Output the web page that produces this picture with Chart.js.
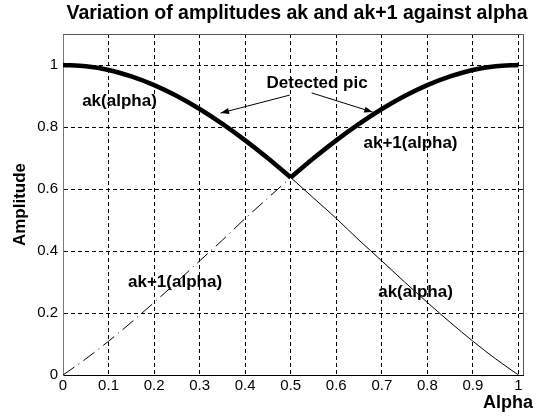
<!DOCTYPE html>
<html>
<head>
<meta charset="utf-8">
<script src="https://cdn.jsdelivr.net/npm/chart.js@4/dist/chart.umd.min.js"></script>
<style>
  html, body { margin: 0; padding: 0; background: #fff; }
  #wrap { width: 538px; height: 416px; }
</style>
</head>
<body>
<div id="wrap"><canvas id="ampChart" width="538" height="416"></canvas></div>
<script>
// values
const alpha = [0, 0.05, 0.1, 0.15, 0.2, 0.25, 0.3, 0.35, 0.4, 0.45, 0.5,
               0.55, 0.6, 0.65, 0.7, 0.75, 0.8, 0.85, 0.9, 0.95, 1];
const akValues = [1.000, 0.996, 0.984, 0.963, 0.935, 0.900, 0.858, 0.810, 0.757, 0.699, 0.637,
                  0.571, 0.505, 0.435, 0.368, 0.300, 0.234, 0.170, 0.109, 0.052, 0.000];
const ak1Values = [0.000, 0.052, 0.109, 0.170, 0.234, 0.300, 0.368, 0.435, 0.505, 0.571, 0.637,
                   0.699, 0.757, 0.810, 0.858, 0.900, 0.935, 0.963, 0.984, 0.996, 1.000];
const xTicks = [0, 0.1, 0.2, 0.3, 0.4, 0.5, 0.6, 0.7, 0.8, 0.9, 1];
const yTicks = [0, 0.2, 0.4, 0.6, 0.8, 1];

const titleText = "Variation of amplitudes ak and ak+1 against alpha";
// text labels in data units [x, y, text]
const labels = [
    [0.124, 0.884, "ak(alpha)"],
    [0.558, 0.942, "Detected pic"],
    [0.763, 0.748, "ak+1(alpha)"],
    [0.246, 0.300, "ak+1(alpha)"],
    [0.774, 0.268, "ak(alpha)"]
];
// arrows in data units [x0, y0, x1, y1]
const arrows = [
    [0.498, 0.903, 0.346, 0.845],
    [0.546, 0.910, 0.680, 0.848]
];

function points(xs, ys, from, to) {
    let out = [];
    for (let i = from; i <= to; i++) out.push({x: xs[i], y: ys[i]});
    return out;
}

const mid = alpha.indexOf(0.5);
const last = alpha.length - 1;
const fam = "'Liberation Sans', Arial, sans-serif";

const decorPlugin = {
    id: "decor",
    afterDraw(chart) {
        const ctx = chart.ctx;
        const a = chart.chartArea;
        const xs = chart.scales.x, ys = chart.scales.y;
        ctx.save();
        // box top and right
        ctx.strokeStyle = "#555";
        ctx.lineWidth = 1;
        ctx.beginPath();
        ctx.moveTo(a.left, a.top + 0.5);
        ctx.lineTo(a.right + 0.5, a.top + 0.5);
        ctx.lineTo(a.right + 0.5, a.bottom);
        ctx.stroke();

        ctx.fillStyle = "#000";
        ctx.textAlign = "center";
        ctx.textBaseline = "middle";
        ctx.font = "bold 19.5px " + fam;
        ctx.fillText(titleText, (a.left + a.right) / 2 + 4, 14);

        ctx.font = "bold 18px " + fam;
        ctx.fillText("Alpha", 508, 403);

        ctx.font = "bold 17px " + fam;
        labels.forEach(l => {
            ctx.fillText(l[2], xs.getPixelForValue(l[0]), ys.getPixelForValue(l[1]));
        });

        ctx.strokeStyle = "#000";
        ctx.fillStyle = "#000";
        arrows.forEach(ar => {
            const x0 = xs.getPixelForValue(ar[0]), y0 = ys.getPixelForValue(ar[1]);
            const x1 = xs.getPixelForValue(ar[2]), y1 = ys.getPixelForValue(ar[3]);
            ctx.beginPath();
            ctx.moveTo(x0, y0);
            ctx.lineTo(x1, y1);
            ctx.stroke();
            const ang = Math.atan2(y1 - y0, x1 - x0);
            const len = 9, w = 0.35;
            ctx.beginPath();
            ctx.moveTo(x1, y1);
            ctx.lineTo(x1 - len * Math.cos(ang - w), y1 - len * Math.sin(ang - w));
            ctx.lineTo(x1 - len * Math.cos(ang + w), y1 - len * Math.sin(ang + w));
            ctx.closePath();
            ctx.fill();
        });
        ctx.restore();
    }
};

new Chart(document.getElementById("ampChart"), {
    type: "line",
    data: {
        datasets: [
            {
                label: "ak thick",
                data: points(alpha, akValues, 0, mid),
                borderColor: "#000",
                borderWidth: 4.5,
                cubicInterpolationMode: "monotone"
            },
            {
                label: "ak+1 thick",
                data: points(alpha, ak1Values, mid, last),
                borderColor: "#000",
                borderWidth: 4.5,
                cubicInterpolationMode: "monotone"
            },
            {
                label: "ak thin",
                data: points(alpha, akValues, mid, last),
                borderColor: "#000",
                borderWidth: 1,
                cubicInterpolationMode: "monotone"
            },
            {
                label: "ak+1 dashdot",
                data: points(alpha, ak1Values, 0, mid),
                borderColor: "#000",
                borderWidth: 1,
                borderDash: [14, 5, 1, 5],
                cubicInterpolationMode: "monotone"
            }
        ]
    },
    options: {
        responsive: false,
        animation: false,
        elements: { point: { radius: 0 } },
        layout: { padding: { top: 34, right: 15, left: 0, bottom: 0 } },
        plugins: {
            legend: { display: false },
            tooltip: { enabled: false },
            title: { display: false }
        },
        scales: {
            x: {
                type: "linear",
                min: 0,
                max: 1.01,
                afterFit(scale) { scale.height = 41; },
                afterBuildTicks(scale) { scale.ticks = xTicks.map(v => ({value: v})); },
                ticks: {
                    padding: 2,
                    color: "#000",
                    font: { size: 15, family: fam },
                    callback: v => String(+v.toFixed(2))
                },
                grid: { color: "#000", lineWidth: 1, drawTicks: false },
                border: { color: "#000", width: 1, dash: [4, 3] }
            },
            y: {
                type: "linear",
                min: 0,
                max: 1.1,
                afterFit(scale) { scale.width = 63; },
                afterBuildTicks(scale) { scale.ticks = yTicks.map(v => ({value: v})); },
                ticks: {
                    padding: 5,
                    color: "#000",
                    font: { size: 15, family: fam },
                    callback: v => String(+v.toFixed(2))
                },
                grid: { color: "#000", lineWidth: 1, drawTicks: false },
                border: { color: "#777", width: 1, dash: [4, 3] },
                title: {
                    display: true,
                    text: "Amplitude",
                    color: "#000",
                    padding: { top: 10, bottom: 0 },
                    font: { size: 17, weight: "bold", family: fam }
                }
            }
        }
    },
    plugins: [decorPlugin]
});
</script>
</body>
</html>
